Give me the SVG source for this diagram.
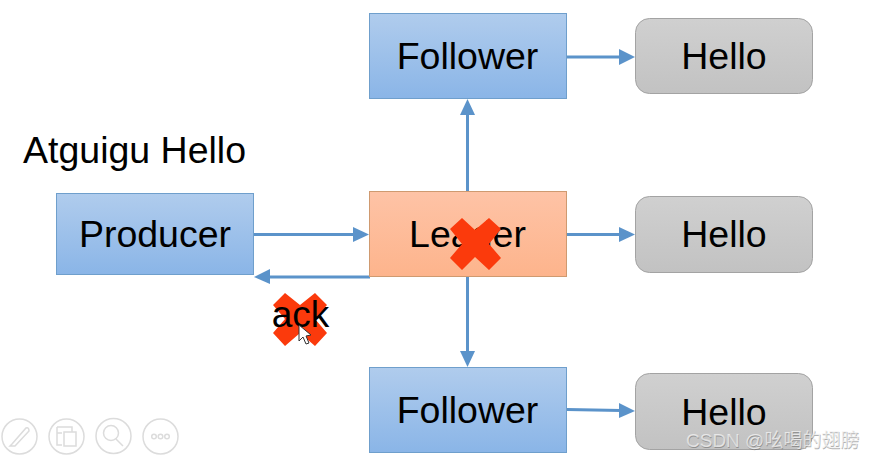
<svg xmlns="http://www.w3.org/2000/svg" width="873" height="460" viewBox="0 0 873 460">
<style>
text{font-family:"Liberation Sans",Arial,sans-serif;fill:#000}
.t{font-size:37.500px;text-anchor:middle}
.b{stroke:#6f9fcc;stroke-width:1;fill:url(#blue)}
.g{stroke:#a3a3a3;stroke-width:1;fill:url(#gray)}
.c{stroke:#5b93ca;stroke-width:3;fill:none}
.h{fill:#5b93ca;stroke:none}
.i{fill:none;stroke:#dcdcdc;stroke-width:1.5}
</style>
<defs>
<linearGradient id="blue" x1="0" y1="0" x2="0" y2="1"><stop offset="0" stop-color="#b0cced"/><stop offset="1" stop-color="#8ab5e7"/></linearGradient>
<linearGradient id="gray" x1="0" y1="0" x2="0" y2="1"><stop offset="0" stop-color="#d0d0d0"/><stop offset="1" stop-color="#c2c2c2"/></linearGradient>
<linearGradient id="orange" x1="0" y1="0" x2="0" y2="1"><stop offset="0" stop-color="#fec3a6"/><stop offset="1" stop-color="#fdb48c"/></linearGradient>
</defs>
<rect width="873" height="460" fill="#fff"/>
<g id="connectors">
<path class="c" d="M254 234.500H355"/><path class="h" d="M353 227L369 234.500L353 242Z"/>
<path class="c" d="M370 277H268"/><path class="h" d="M270 269L254 277L270 284Z"/>
<path class="c" d="M467.500 191V113"/><path class="h" d="M460 115L467.500 99L475 115Z"/>
<path class="c" d="M467.500 276V353"/><path class="h" d="M460 351L467.500 367L475 351Z"/>
<path class="c" d="M567 57H621"/><path class="h" d="M619 49L635 57L619 65Z"/>
<path class="c" d="M567 234.500H621"/><path class="h" d="M619 227L635 234.500L619 242Z"/>
<path class="c" d="M567 409.500L621 410.500"/><path class="h" d="M619 403L635 411L619 418Z"/>
</g>
<g id="label-title"><text x="23" y="163" font-size="37.500">Atguigu Hello</text></g>
<g id="producer"><rect class="b" x="56.500" y="193.500" width="197" height="81"/><text class="t" x="155" y="247">Producer</text></g>
<g id="leader"><rect x="369.500" y="191.500" width="197" height="85" fill="url(#orange)" stroke="#cf9a70"/><text class="t" x="467.500" y="247">Leader</text>
<path d="M462 218L475 230L489 218L501 229L489 244L501 258L489 270L475 257L462 270L450 258L462 244L450 229Z" fill="#fb3a0c"/></g>
<g id="follower-top"><rect class="b" x="369.500" y="13.500" width="197" height="85"/><text class="t" x="467.500" y="69">Follower</text></g>
<g id="follower-bottom"><rect class="b" x="369.500" y="367.500" width="197" height="85"/><text class="t" x="467.500" y="423">Follower</text></g>
<g id="hello-top"><rect class="g" x="635.500" y="18.500" width="177" height="75" rx="14"/><text class="t" x="724" y="69">Hello</text></g>
<g id="hello-middle"><rect class="g" x="635.500" y="196.500" width="177" height="76" rx="14"/><text class="t" x="724" y="247">Hello</text></g>
<g id="hello-bottom"><rect class="g" x="635.500" y="373.500" width="177" height="76" rx="14"/><text class="t" x="724" y="425">Hello</text></g>
<g id="ack">
<path d="M285 293L300 305L315 293L327 305L315 319L327 333L315 346L300 333L285 346L273 333L285 319L273 305Z" fill="#fb3a0c"/>
<text x="300.500" y="327" font-size="37" text-anchor="middle">ack</text>
<path d="M299 325V341L303 337L306 344L309 343L306 336L311 335Z" fill="#fff" stroke="#333" stroke-width="1"/>
</g>
<g id="toolbar">
<circle class="i" cx="19.500" cy="436.500" r="17.500"/><path class="i" d="M12 444L26 428Q29 427 29 431L15 446L10 446Z"/>
<circle class="i" cx="66.500" cy="436.500" r="17.500"/><path class="i" d="M57 427H72V432M57 427V445H62M57 433H62M64 432H76V446H64Z"/>
<circle class="i" cx="113.500" cy="436" r="17.500"/><circle class="i" cx="111" cy="433" r="7.500"/><path class="i" d="M116 439L123 446" stroke-width="2.500"/>
<circle class="i" cx="160.500" cy="436.500" r="17.500"/><circle class="i" cx="154" cy="436.500" r="2.300"/><circle class="i" cx="160.500" cy="436.500" r="2.300"/><circle class="i" cx="167" cy="436.500" r="2.300"/>
</g>
<g id="watermark"><text x="686.500" y="447.500" font-size="19" style="font-family:'Liberation Sans','Noto Sans CJK SC',sans-serif;fill:#555;opacity:.45">CSDN @吆喝的翅膀</text><text x="686" y="447" font-size="19" style="font-family:'Liberation Sans','Noto Sans CJK SC',sans-serif;fill:#f4f4f4;opacity:.75">CSDN @吆喝的翅膀</text></g>
</svg>
